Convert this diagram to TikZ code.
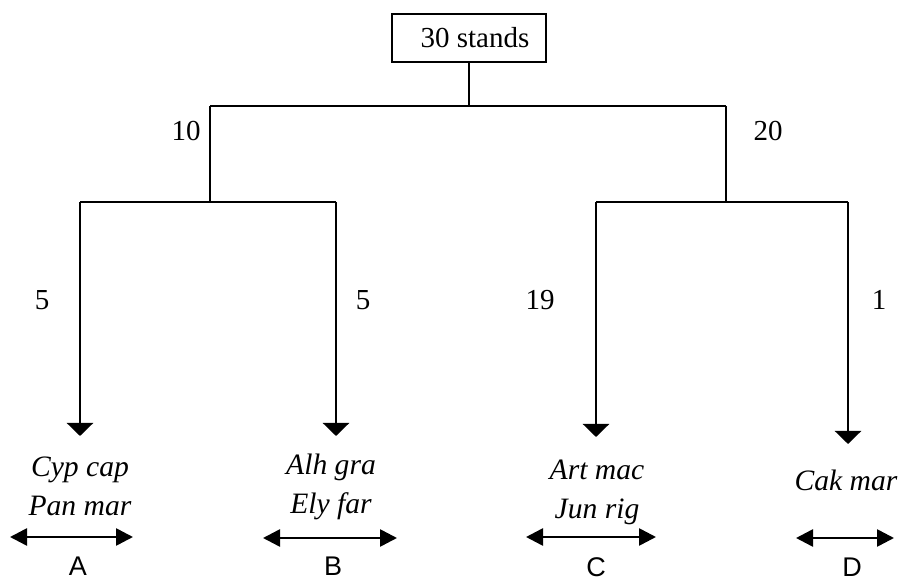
\documentclass[tikz,border=0pt]{standalone}
\usepackage{fontspec}
\setmainfont{Liberation Serif}
\newfontfamily\arialfont{Liberation Sans}
\usetikzlibrary{arrows.meta}
\tikzset{
  treeline/.style={line width=0.8pt},
  droparrow/.style={line width=1.3pt,-{Triangle[width=13pt,length=6.5pt]}},
  spanarrow/.style={line width=1.3pt,{Triangle[width=8.5pt,length=8.5pt]}-{Triangle[width=8.5pt,length=8.5pt]}},
  numlabel/.style={font=\fontsize{14.5}{17}\selectfont,inner sep=0pt},
  species/.style={font=\fontsize{14.8}{19.5}\selectfont\itshape,align=center,inner sep=0pt},
  letter/.style={font=\arialfont\fontsize{13.5}{15}\selectfont,inner sep=0pt}
}
\begin{document}
\begin{tikzpicture}[x=0.5pt,y=-0.5pt]
\useasboundingbox (0,0) rectangle (898,581);
% root
\node[draw,treeline,minimum width=77pt,minimum height=24pt,inner sep=0pt,font=\fontsize{14.5}{17}\selectfont] (root) at (469,38) {\hspace*{6pt}30 stands};
\coordinate (j0) at (469,106);
\coordinate (jl) at (210,106);
\coordinate (jr) at (726,106);
\coordinate (jl2) at (210,202);
\coordinate (jr2) at (726,202);
\coordinate (ll) at (80,202);
\coordinate (lr) at (336,202);
\coordinate (rl) at (596,202);
\coordinate (rr) at (848,202);
\coordinate (ta) at (80,436);
\coordinate (tb) at (336,436);
\coordinate (tc) at (596,437);
\coordinate (td) at (848,444);
\draw[treeline] (root.south) -- (j0);
\draw[treeline] (jl) -- (jr);
\draw[treeline] (jl) -- (jl2);
\draw[treeline] (jr) -- (jr2);
\draw[treeline] (ll) -- (lr);
\draw[treeline] (rl) -- (rr);
\draw[droparrow] (ll) -- (ta);
\draw[droparrow] (lr) -- (tb);
\draw[droparrow] (rl) -- (tc);
\draw[droparrow] (rr) -- (td);
% counts
\node[numlabel] (n10) at (186,131) {10};
\node[numlabel] (n20) at (768,131) {20};
\node[numlabel] (n5a) at (42,300) {5};
\node[numlabel] (n5b) at (363,300) {5};
\node[numlabel] (n19) at (540,300) {19};
\node[numlabel] (n1) at (879,300) {1};
% species
\node[species] (sa) at (80,486) {Cyp cap\\Pan mar};
\node[species] (sb) at (331,487) {Alh gra\\Ely far};
\node[species] (sc) at (597,492) {Art mac\\Jun rig};
\node[species] (sd) at (846,480) {Cak mar};
% spans
\coordinate (a1) at (10,537);
\coordinate (a2) at (133,537);
\coordinate (b1) at (263,538);
\coordinate (b2) at (397,538);
\coordinate (c1) at (526,537);
\coordinate (c2) at (656,537);
\coordinate (d1) at (796,538);
\coordinate (d2) at (894,538);
\draw[spanarrow] (a1) -- (a2);
\draw[spanarrow] (b1) -- (b2);
\draw[spanarrow] (c1) -- (c2);
\draw[spanarrow] (d1) -- (d2);
\node[letter] (la) at (78,566) {A};
\node[letter] (lb) at (333,566) {B};
\node[letter] (lc) at (596,567) {C};
\node[letter] (ld) at (852,567) {D};
\end{tikzpicture}
\end{document}
